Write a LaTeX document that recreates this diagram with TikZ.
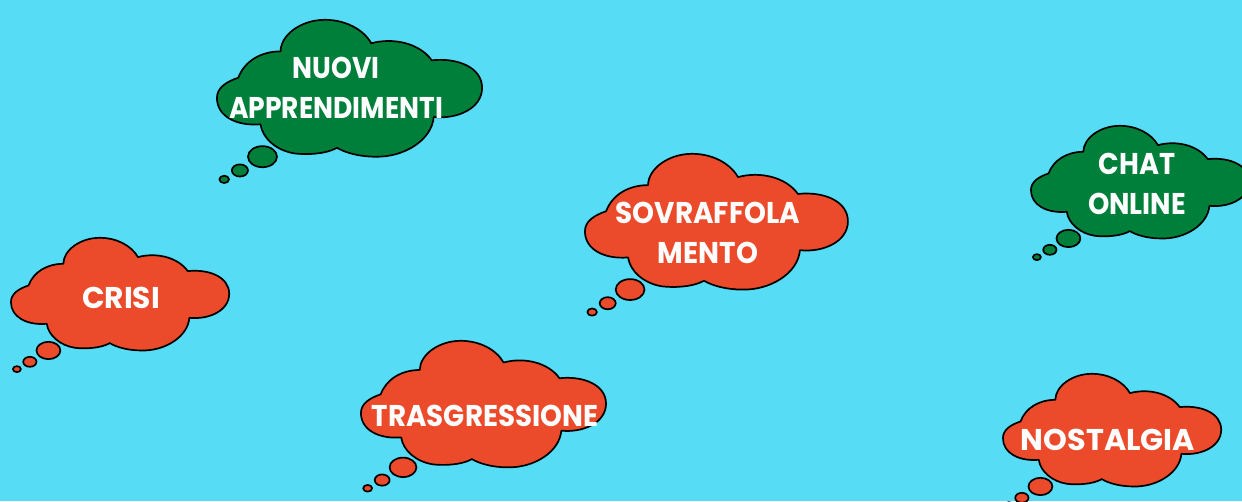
\documentclass[tikz,border=0pt]{standalone}
\usepackage{fontspec}
\setmainfont{Poppins}
\definecolor{sky}{HTML}{56DCF4}
\definecolor{redc}{HTML}{EC4B2B}
\definecolor{greenc}{HTML}{007F3A}
\tikzset{
  cloudline/.style={draw=black,line width=1.7pt,line join=round},
  label/.style={text=white,font=\fontsize{30}{40}\selectfont\bfseries,align=center,inner sep=0pt,anchor=center,transform shape}
}
% #1 left, #2 top, #3 scale, #4 colour
\newcommand{\thoughtcloud}[4]{%
\begin{scope}[shift={({#1-32/3*#3},{#2+0.8-22/3*#3})},x={#3*0.995pt/3},y={-#3*1pt/3}]
\path[cloudline,fill=#4] (190,100)
 .. controls (190,60) and (240,22) .. (300,22)
 .. controls (350,22) and (395,45) .. (415,80)
 .. controls (470,65) and (535,80) .. (565,122)
 .. controls (630,115) and (690,140) .. (690,190)
 .. controls (690,240) and (630,268) .. (570,262)
 .. controls (565,320) and (495,362) .. (425,360)
 .. controls (385,360) and (350,350) .. (330,338)
 .. controls (300,355) and (250,355) .. (225,352)
 .. controls (180,345) and (145,315) .. (140,280)
 .. controls (80,285) and (32,260) .. (32,215)
 .. controls (32,190) and (55,175) .. (85,165)
 .. controls (100,125) and (140,100) .. (190,100) -- cycle;
\path[cloudline,fill=#4] (145,360) ellipse [x radius=36,y radius=26];
\path[cloudline,fill=#4] (89,394) ellipse [x radius=20,y radius=15];
\path[cloudline,fill=#4] (50,416) ellipse [x radius=12,y radius=9];
\end{scope}}
\begin{document}
\begin{tikzpicture}[x=1pt,y=-1pt]
\useasboundingbox (0,0) rectangle (1242,501);
\clip (0,0) rectangle (1242,501);
\fill[sky] (0,0) rectangle (1242,501);
\thoughtcloud{217}{19}{1.215}{greenc}
\thoughtcloud{11}{237}{1}{redc}
\thoughtcloud{585}{153}{1.205}{redc}
\thoughtcloud{361}{340}{1.123}{redc}
\thoughtcloud{1031}{125}{1}{greenc}
\thoughtcloud{1003}{373}{1}{redc}
\node[label,xscale=.885] (nuovi) at (336,88) {NUOVI\\APPRENDIMENTI};
\node[label,xscale=.99] (crisi) at (121,298) {CRISI};
\node[label,xscale=.93] (sovr) at (708,233) {SOVRAFFOLA\\MENTO};
\node[label,xscale=.925] (trasg) at (485,416) {TRASGRESSIONE};
\node[label,xscale=.905] (chat) at (1137,184) {CHAT\\ONLINE};
\node[label,xscale=1.01] (nost) at (1108,440) {NOSTALGIA};
\end{tikzpicture}
\end{document}
